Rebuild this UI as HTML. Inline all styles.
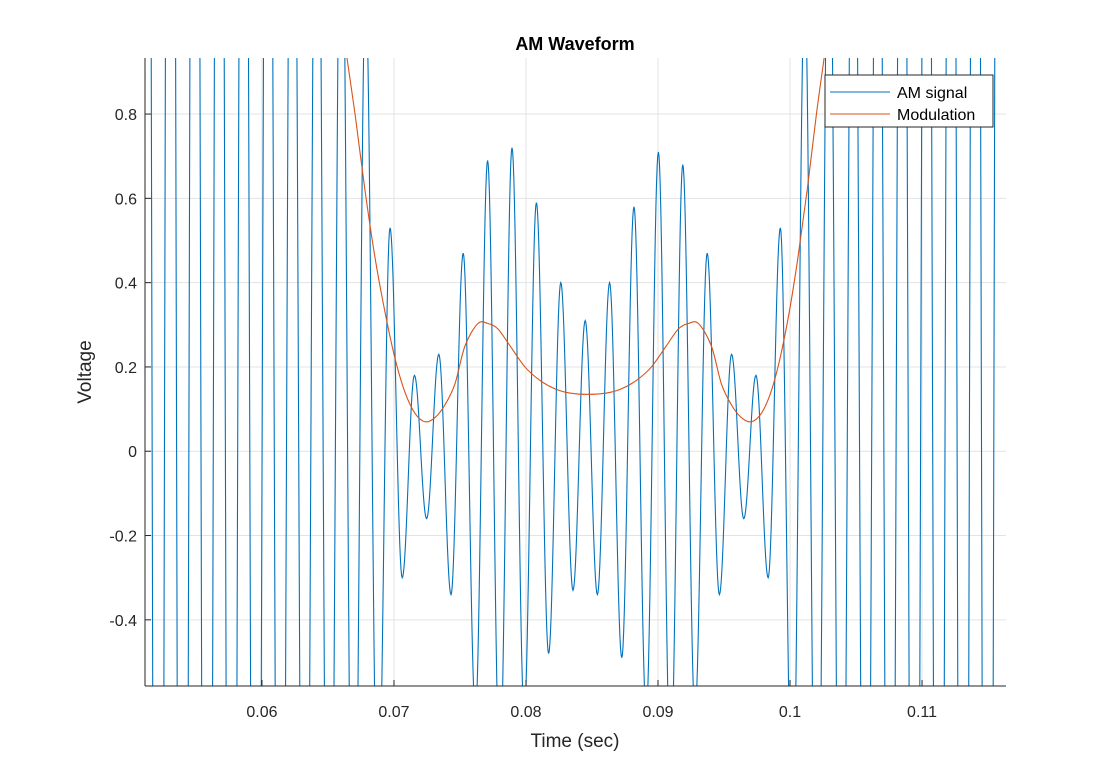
<!DOCTYPE html>
<html><head><meta charset="utf-8"><style>
html,body{margin:0;padding:0;background:#fff;overflow:hidden;width:1114px;height:772px;}
svg{display:block;font-family:"Liberation Sans",Arial,sans-serif;}
</style></head><body>
<svg id="chart" width="1114" height="772" viewBox="0 0 1114 772" xmlns="http://www.w3.org/2000/svg">
<rect width="1114" height="772" fill="#fff"/>
<defs><clipPath id="clip"><rect x="145" y="58" width="861" height="628"/></clipPath></defs>
<g id="grid"></g>
<g id="series" clip-path="url(#clip)"></g>
<g id="axes"></g>
<text x="575" y="50" text-anchor="middle" font-size="18" font-weight="bold" fill="#000">AM Waveform</text>
<text x="575" y="747" text-anchor="middle" font-size="19" fill="#262626">Time (sec)</text>
<text transform="translate(91,372) rotate(-90)" text-anchor="middle" font-size="19" fill="#262626">Voltage</text>
<g>
<rect x="825" y="75" width="168" height="52" fill="#fff" stroke="#262626" stroke-width="1"/>
<g>
<line x1="830" y1="92" x2="890" y2="92" stroke="#0072BD" stroke-width="1"/>
<text x="897" y="98" font-size="16" fill="#000">AM signal</text></g>
<g>
<line x1="830" y1="114" x2="890" y2="114" stroke="#D95319" stroke-width="1"/>
<text x="897" y="120" font-size="16" fill="#000">Modulation</text></g>
</g>
</svg>
<script>
const xTicks=[0.06,0.07,0.08,0.09,0.1,0.11];
const xTickLabels=["0.06","0.07","0.08","0.09","0.1","0.11"];
const yTicks=[-0.4,-0.2,0,0.2,0.4,0.6,0.8];
const yTickLabels=["-0.4","-0.2","0","0.2","0.4","0.6","0.8"];
const carrierPeriod=0.001848;
const firstPeakTime=0.05122;
const amPeaks=[4.0,3.8,3.5,3.2,2.9,2.6,2.2,1.9,1.5,1.1,
 0.53,0.18,0.23,0.47,0.69,0.72,0.59,0.40,0.31,0.40,0.58,0.71,0.68,0.47,0.23,0.18,0.53,
 1.1,1.5,1.9,2.2,2.6,2.9,3.2,3.5,3.8];
const amTroughs=[-4.2,-4.0,-3.7,-3.4,-3.1,-2.8,-2.4,-2.0,-1.7,-1.3,-0.9,
 -0.30,-0.16,-0.34,-0.62,-0.75,-0.62,-0.48,-0.33,-0.34,-0.49,-0.62,-0.75,-0.62,-0.34,-0.16,-0.30,
 -0.9,-1.3,-1.7,-2.0,-2.4,-2.8,-3.1,-3.4,-3.7];
const modTimes=[0.06560,0.06636,0.06705,0.06780,0.06856,0.06932,0.07008,0.07083,0.07159,0.07235,0.07311,0.07386,0.07462,0.07538,0.07636,0.07712,0.07788,0.07879,0.07992,0.08106,0.08220,0.08333,0.08465,
 0.08609,0.08722,0.08836,0.08950,0.09063,0.09154,0.09230,0.09306,0.09404,0.09480,0.09556,0.09631,0.09707,0.09783,0.09855,0.09924,0.09994,0.10060,0.10130,0.10200,0.10266,0.10342];
const modValues=[1.12,0.95,0.80,0.62,0.46,0.33,0.22,0.14,0.09,0.07,0.08,0.11,0.16,0.25,0.303,0.303,0.29,0.25,0.20,0.168,0.148,0.138,0.135,
 0.138,0.148,0.168,0.20,0.25,0.29,0.303,0.303,0.25,0.16,0.11,0.08,0.07,0.09,0.14,0.22,0.33,0.46,0.62,0.80,0.95,1.12];

const X0=0.05114,X1=0.11636,Y0=-0.557,Y1=0.933;
const PL=145,PR=1006,PT=58,PB=686;
const sx=t=>PL+(t-X0)/(X1-X0)*(PR-PL);
const sy=v=>PB-(v-Y0)/(Y1-Y0)*(PB-PT);
const NS="http://www.w3.org/2000/svg";
function mk(tag,attrs,parent){const e=document.createElementNS(NS,tag);for(const k in attrs)e.setAttribute(k,attrs[k]);parent.appendChild(e);return e;}
const grid=document.getElementById('grid'),axes=document.getElementById('axes'),series=document.getElementById('series');
xTicks.forEach((t,i)=>{
 const g=mk('line',{x1:sx(t),x2:sx(t),y1:PT,y2:PB,stroke:'#e3e3e3','stroke-width':1},grid);
 
 
 const tk=mk('line',{x1:sx(t),x2:sx(t),y1:PB,y2:PB-6,stroke:'#262626','stroke-width':1},axes);
 
 
 const tx=mk('text',{x:sx(t),y:PB+31,'text-anchor':'middle','font-size':16,fill:'#262626'},axes);
 tx.textContent=xTickLabels[i];
 
 
});
yTicks.forEach((v,i)=>{
 const g=mk('line',{x1:PL,x2:PR,y1:sy(v),y2:sy(v),stroke:'#e3e3e3','stroke-width':1},grid);
 
 
 const tk=mk('line',{x1:PL,x2:PL+6,y1:sy(v),y2:sy(v),stroke:'#262626','stroke-width':1},axes);
 
 
 const tx=mk('text',{x:PL-8,y:sy(v)+6,'text-anchor':'end','font-size':16,fill:'#262626'},axes);
 tx.textContent=yTickLabels[i];
 
 
});
const xa=mk('line',{x1:PL,x2:PR,y1:PB,y2:PB,stroke:'#262626','stroke-width':1},axes);


const ya=mk('line',{x1:PL,x2:PL,y1:PT,y2:PB,stroke:'#262626','stroke-width':1},axes);



const ext=[];
for(let j=0;j<Math.max(amPeaks.length,amTroughs.length);j++){
 const tp=firstPeakTime+j*carrierPeriod;
 if(j<amTroughs.length) ext.push([tp-carrierPeriod/2,amTroughs[j]]);
 if(j<amPeaks.length) ext.push([tp,amPeaks[j]]);
}
let d='';
for(let i=0;i<ext.length-1;i++){
 const [t0,v0]=ext[i],[t1,v1]=ext[i+1];
 for(let s=0;s<=20;s++){
  const f=s/20,t=t0+(t1-t0)*f,v=v0+(v1-v0)*(1-Math.cos(Math.PI*f))/2;
  d+=(d?'L':'M')+sx(t).toFixed(2)+','+sy(v).toFixed(2);
 }
}
const am=mk('path',{d:d,fill:'none',stroke:'#0072BD','stroke-width':1.1},series);



let md='M'+sx(modTimes[0])+','+sy(modValues[0]);
for(let i=0;i<modTimes.length-1;i++){
 const p0=[sx(modTimes[Math.max(0,i-1)]),sy(modValues[Math.max(0,i-1)])];
 const p1=[sx(modTimes[i]),sy(modValues[i])];
 const p2=[sx(modTimes[i+1]),sy(modValues[i+1])];
 const p3=[sx(modTimes[Math.min(modTimes.length-1,i+2)]),sy(modValues[Math.min(modTimes.length-1,i+2)])];
 const c1=[p1[0]+(p2[0]-p0[0])/6,p1[1]+(p2[1]-p0[1])/6];
 const c2=[p2[0]-(p3[0]-p1[0])/6,p2[1]-(p3[1]-p1[1])/6];
 md+='C'+c1.join(',')+' '+c2.join(',')+' '+p2.join(',');
}
const mod=mk('path',{d:md,fill:'none',stroke:'#D95319','stroke-width':1.1},series);


</script>
</body></html>
